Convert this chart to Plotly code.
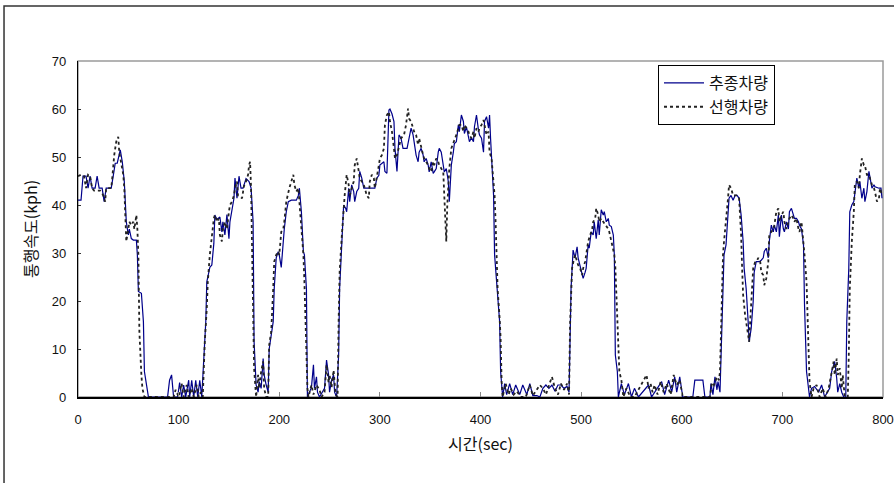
import plotly.graph_objects as go

# 추종차량 (following vehicle) - time (sec), speed (kph)
t_follow = [0,3,5,8,10,12,14,17,19,21,24,26,28,33,35,37,39,42,44,46,48,50,51,53,55,58,59,60,63,65,66,70,
            89,91,93,95,99,101,103,105,107,110,111,113,115,117,119,121,123,125,127,128,131,133,135,136,138,141,
            143,144,146,148,150,151,153,155,156,158,160,162,164,167,170,172,174,175,177,179,180,182,184,185,187,
            189,190,192,194,195,197,199,200,202,204,205,207,209,212,217,219,220,222,224,225,227,228,232,234,235,
            237,238,240,245,247,249,250,252,254,255,257,259,260,262,264,266,267,269,270,272,274,275,277,279,280,
            282,284,295,297,299,300,304,305,307,309,310,312,314,315,317,319,321,323,327,329,331,333,334,336,338,
            339,341,343,344,346,348,349,351,353,354,356,358,359,361,363,364,366,368,369,371,373,374,376,378,379,
            381,383,384,386,388,389,391,393,394,396,398,399,401,403,404,406,408,409,410,411,413,414,416,418,419,
            420,422,424,426,429,432,435,439,442,446,449,452,456,459,462,465,468,471,474,477,480,483,486,488,490,
            491,492,494,496,497,499,501,502,504,505,507,508,510,512,513,515,517,518,520,522,523,525,527,528,530,
            532,533,534,536,537,540,543,547,550,553,557,567,570,580,583,587,590,593,595,598,601,611,613,621,623,
            628,629,631,633,635,636,638,639,640,641,642,644,646,647,649,651,653,655,656,657,659,661,662,664,666,
            667,669,671,672,674,677,679,681,682,684,686,687,689,691,692,694,696,697,699,701,702,704,706,707,709,
            711,712,714,716,717,719,721,722,724,726,727,729,732,736,739,742,747,749,752,754,755,757,759,761,763,
            764,766,767,769,771,772,774,776,777,779,781,782,784,786,787,789,791,792,796,798,799]
v_follow = [41,41,46,46,43.5,46,43.5,43.5,46,43.5,43.5,40.7,43.5,43.5,46,48.7,48.7,51.5,49,44.9,36.5,33.75,35,33,
            32.7,32.7,29.6,22,21.6,15.7,5.3,0,
            0,3.5,4.6,0,0,3,0,2.5,0,3.5,0,3.5,0,3.5,0,3.5,0,8.75,15.7,24,27,27.5,32,37.9,37,37.5,
            34.4,36.5,33.75,38,33,36.5,38.6,41.4,45.6,41.4,46,43.5,43.5,45.5,44.9,43.5,36.5,11.5,2.5,1,3.2,1.8,8,4.6,2.5,
            1,10,13,15.7,22.6,29,30.3,29.6,27,33.75,35,38.6,40.7,41,41,42,43.5,38.6,30.3,29.6,22.6,0,2,6.7,1.8,
            4.2,1,0,1.8,7.7,4.6,1,3.5,4.6,1,0,8.75,22.6,31.7,40,39.3,38.6,43.5,40.7,44.2,42.8,40.7,42.8,43.5,47,
            45.6,43.5,43.5,45.6,46.2,48.3,49,47,46.6,59.8,60,59,57.4,51.8,47,54.6,53.9,51.8,51.8,53.9,56,54.6,53.2,50.4,49,
            51,51.8,50.4,49,49.7,48.3,46.9,49,46.6,46.9,47.6,51,51.8,51,48.3,46.9,47.6,44.9,40.7,48.3,51,52.8,53.2,56.7,55.3,
            58.75,57.4,54.9,56.3,54.6,53.2,54,53.2,56.3,58.75,55.6,54.6,53.9,51,57.4,58.4,56,58.75,53.9,49,42,29.6,24,18.5,15.7,
            5.3,0,2.8,0.5,2.8,0.5,2.5,0.5,2.5,0.5,2.8,0.3,0.3,0,1.8,2.5,1.8,2.5,1.2,2.5,2.5,1.8,2.2,1,22.6,
            28,30.6,29,31.3,29,27.5,26,24.7,26,26.8,31.7,31,34.4,33.75,36.5,33,36.9,33.75,39,37.9,38.6,36.5,37.2,35.8,35.5,
            33.75,29.6,8.75,5.3,0,2.8,0.5,2.8,0,1.8,0,2.5,0,3.2,0.5,3.5,1,4.2,1,4.2,0,0,3.5,3.5,0,
            0,2.8,0.5,4.2,1.5,3.2,1,8.75,15.7,23.3,29.6,31.7,40,41.4,42,41,42,42,41.7,41.4,37.9,32.4,26.8,22.6,15.7,
            11.5,14.3,19.9,26,28.2,28.2,28.5,29,30.3,31,29,32.4,35.8,34.4,35.8,34.4,37.9,33.4,37.9,35,34.4,36.5,35,38.6,39.3,
            37.9,37.2,37.2,36.5,35.8,35,31.7,19.2,5.3,1.8,0,1.8,2.2,1,2.5,0,1.8,5.3,7.4,3.9,1,2.8,1,0,0,
            15.7,26.8,38.6,40,40.7,42.8,45.6,43.5,44.9,41.4,43.5,40.7,42.8,47,45.6,43.5,44.2,43.8,43.5,43.5,41.4]

# 선행차량 (leading vehicle)
t_lead = [0,3,6,8,10,12,14,16,22,24,25,27,28,33,34,36,38,40,41,43,45,46,47,48,50,51,53,55,56,58,59,60,61,62,63,64,66,
          95,97,100,103,105,108,110,113,115,118,120,122,124,126,128,129,131,133,135,136,138,140,141,143,144,146,148,
          150,151,153,155,156,158,159,160,163,165,167,169,170,171,172,174,175,177,179,180,182,184,185,187,189,190,192,
          194,195,197,199,200,202,204,205,207,209,210,212,214,215,217,219,220,222,224,225,226,228,229,232,234,237,240,
          242,245,247,249,250,252,254,256,258,259,260,262,264,265,267,269,270,272,274,275,277,279,280,282,284,285,287,
          289,290,292,294,295,297,299,300,302,304,305,307,309,310,312,314,315,317,319,321,324,326,328,329,331,333,334,
          336,338,339,341,343,344,346,348,349,351,353,354,356,358,359,361,363,364,365,366,367,368,369,371,373,374,376,
          378,379,381,383,384,386,388,389,391,393,394,396,398,399,401,403,404,406,408,409,411,413,414,415,416,417,419,
          420,421,422,425,428,430,433,436,440,445,449,452,459,462,465,469,471,474,477,480,483,486,488,489,490,491,493,
          494,496,497,499,501,502,504,506,507,509,511,512,514,515,517,518,520,522,523,525,527,528,530,532,533,534,535,
          536,537,538,540,542,545,549,553,565,567,569,571,573,576,579,582,585,589,592,595,598,601,628,630,632,635,637,
          638,639,640,641,642,644,646,647,649,651,655,657,658,659,660,661,663,665,666,667,668,670,671,673,675,676,678,
          679,681,682,684,686,687,689,691,692,694,696,697,699,701,702,704,706,707,709,711,712,714,716,717,719,721,722,
          724,725,726,727,729,731,734,737,740,743,746,749,751,752,754,755,757,759,760,762,765,766,767,769,771,772,774,
          776,777,779,781,782,784,786,787,789,791,792,794,796,797,799]
v_lead = [46,46.3,46,43.5,46.3,46,43.5,43,43,42.5,42,40.7,43.5,43.5,45.5,50.4,53.2,54.2,51,48.5,46.3,43.5,37.9,32.4,35,
          36.5,35.8,36.5,35,37.9,35,29.6,13.6,8,4.6,1.8,0,
          0,1.5,0,2.8,0,2.5,0,1.8,0,2.5,0,1,0,11.5,18.5,24,29.6,33.75,37.2,37.9,36.5,37.2,33.75,32.4,35,36.5,35,
          38.6,40,40.7,42,43.5,44.9,42,42,41.4,44,44.9,46.3,48.3,49,43.5,22.6,6,0,4.6,1.8,5.3,7.4,1.8,0,0,10.8,13.6,
          22.6,28.2,29.6,30.3,29.6,34.4,35,36.5,40.7,42.8,43.5,44.9,46.3,44.2,42.8,43.5,40.7,35,29.6,24,15.7,1.8,0,2.5,0.5,2.5,1.5,
          0,1,6.7,3,4.6,2,5.6,0.5,0,15.7,26,33,39.3,42,46.3,44.2,42,43.5,44.9,48.3,49.7,47,45.6,44.9,44.2,43.5,42,
          41.4,44.9,46.3,45.6,43.5,45.6,48.3,49.7,50.4,51.8,56.7,58.75,59.4,57.4,55.3,51.8,49.7,50.4,52.5,53.9,54.6,56.7,60.1,58,57.4,56,55.3,
          54.6,52.5,53.9,51.8,50.4,49.7,49,48.3,47.6,46.9,49,48.3,49.7,49,48.3,47.6,46.9,42,37.9,32.4,40,43.5,47.6,51.8,53.2,53.5,54.6,
          56,56.7,56.7,55.3,56.7,56,55.3,54.6,53.9,55.3,53.9,56,55.3,56,56.7,57.7,56.7,54.6,55.3,51,49.7,44.9,42,36.5,29.6,22.6,16.4,
          12.2,3.2,0,2.8,0.5,1.8,0.5,1.2,0,0,2.5,0.3,2.5,1.8,0.5,3,4.2,1.8,0.5,2.8,1.5,2.8,0.5,15,24,26.8,28.9,
          29.6,28.2,27.5,26.8,25.4,26.8,28.2,31,32.4,33.75,35,36.5,37.2,39.3,37.9,36.5,37.2,36.5,36.2,35.8,35,34.4,32.4,31,29.6,27,21,
          15.7,10,5.3,3.5,0,1.8,0,0,4.6,1.8,2.8,1,2.5,0.5,3.2,1,2.8,0.5,4.6,2.5,3.5,0,0,3,2.5,4.2,3.5,
          5.3,15.7,24,29.6,32.4,36.5,41.4,44.2,43.5,42,42,41.4,38.6,33.75,26.8,21.25,17,14.3,12.2,11.5,15.7,22.6,26.8,28.2,28.5,29,28.2,
          26,25.4,23.3,24.7,28.2,33.75,34.4,35,35.8,38.6,39.3,36.5,37.9,38.6,36.5,35,36.5,37.2,37.9,37.2,36.5,37.2,35,34.4,36.5,32.4,29.6,
          24,15.7,8.75,3.2,0,1.8,2.5,0,1.8,0,1.8,5.3,7.4,4.6,8,4.6,6,1.8,4.6,0,0,8.75,22.6,32.4,38.6,44.2,44.9,
          43.5,46.3,49.7,48.3,48.3,46.3,46.3,45.6,44.2,43.5,42.8,40.7,41.4,43.5,42]

x_ticks = [0, 100, 200, 300, 400, 500, 600, 700, 800]
y_ticks = [0, 10, 20, 30, 40, 50, 60, 70]

NUM_FONT = "Liberation Sans Narrow, Arial Narrow, Liberation Sans, sans-serif"
KR_FONT = "Noto Sans CJK KR, sans-serif"

fig = go.Figure()
fig.add_trace(go.Scatter(x=t_follow, y=v_follow, mode="lines", name="추종차량",
                         line=dict(color="#00008b", width=1.2)))
fig.add_trace(go.Scatter(x=t_lead, y=v_lead, mode="lines", name="선행차량",
                         line=dict(color="#222222", width=1.8, dash="dot")))

fig.update_layout(
    width=894, height=483,
    margin=dict(l=78, r=11, t=61, b=86, autoexpand=False),
    paper_bgcolor="white", plot_bgcolor="white",
    showlegend=True,
    legend=dict(x=0.7205, y=0.988, xanchor="left", yanchor="top",
                bgcolor="white", bordercolor="black", borderwidth=1,
                font=dict(family=KR_FONT, size=16, color="#111"),
                tracegroupgap=0, itemwidth=40),
    shapes=[
        dict(type="rect", xref="paper", yref="paper", x0=0, x1=1, y0=0, y1=1,
             line=dict(color="#9a9a9a", width=1.5), layer="below"),
        dict(type="rect", xref="paper", yref="paper", x0=-0.0919, x1=1.03, y0=-0.35, y1=1.1637,
             line=dict(color="#333333", width=1.5), layer="below"),
    ],
)
fig.update_xaxes(range=[0, 800], tickvals=x_ticks, ticks="inside", ticklen=5, tickcolor="#888",
                 showline=True, linecolor="black", linewidth=1.5, showgrid=False, zeroline=False,
                 automargin=False,
                 tickfont=dict(family=NUM_FONT, size=13, color="#111"), ticklabelstandoff=10,
                 title=dict(text="시간(sec)", font=dict(family=KR_FONT, size=16, color="#111"), standoff=12))
fig.update_yaxes(range=[0, 70], tickvals=y_ticks, ticks="inside", ticklen=3, tickcolor="#333",
                 showline=True, linecolor="black", linewidth=1.2, showgrid=False, zeroline=False,
                 automargin=False,
                 tickfont=dict(family=NUM_FONT, size=13, color="#111"), ticklabelstandoff=8,
                 title=dict(text="통행속도(kph)", font=dict(family=KR_FONT, size=16, color="#111"), standoff=10))

fig.write_html("out.html", config={"displayModeBar": False},
               post_script="document.body.style.margin='0';document.body.style.overflow='hidden';")
